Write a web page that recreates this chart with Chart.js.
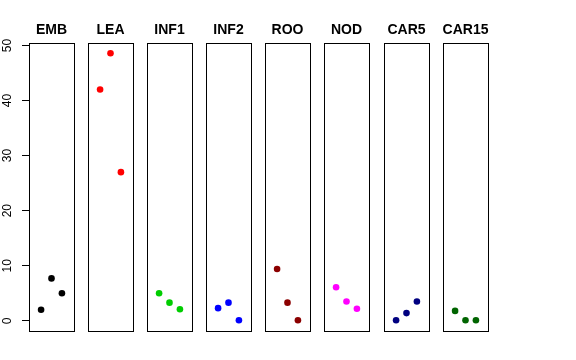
<!DOCTYPE html>
<html><head><meta charset="utf-8">
<script src="https://cdn.jsdelivr.net/npm/chart.js@4"></script>
<style>
html,body{margin:0;padding:0;background:#fff;}
#wrap{position:relative;width:576px;height:360px;overflow:hidden;}
#wrap canvas{position:absolute;left:0;top:0;}
</style>
</head><body><div id="wrap"></div>
<script>
// ---- data ----
const categories = ['EMB','LEA','INF1','INF2','ROO','NOD','CAR5','CAR15'];
const positions = [1, 2, 3];
const EMB   = [2.0, 7.7, 5.0];
const LEA   = [42.0, 48.6, 27.0];
const INF1  = [5.0, 3.3, 2.1];
const INF2  = [2.3, 3.3, 0.1];
const ROO   = [9.4, 3.3, 0.1];
const NOD   = [6.1, 3.5, 2.2];
const CAR5  = [0.1, 1.4, 3.5];
const CAR15 = [1.8, 0.1, 0.1];
const yTicks = [0, 10, 20, 30, 40, 50];

const seriesValues = [EMB, LEA, INF1, INF2, ROO, NOD, CAR5, CAR15];
const colors = ['#000000','#FF0000','#00CD00','#0000FF','#8B0000','#FF00FF','#000080','#006400'];

// ---- layout ----
const W = 576, H = 360;
const panelLefts = [29, 88, 147, 206, 265, 324, 384, 443];
const panelWidth = 45;
const panelTop = 43, panelBottom = 331;

const boxPlugin = {
  id: 'boxTitle',
  afterDraw(chart, args, opts) {
    const {ctx, chartArea: a} = chart;
    ctx.save();
    ctx.strokeStyle = '#000';
    ctx.lineWidth = 1;
    ctx.strokeRect(Math.round(a.left) + 0.5, Math.round(a.top) + 0.5,
                   Math.round(a.right - a.left), Math.round(a.bottom - a.top));
    ctx.fillStyle = '#000';
    ctx.font = 'bold 14px "Liberation Sans", Arial, sans-serif';
    ctx.textAlign = 'center';
    ctx.textBaseline = 'alphabetic';
    ctx.fillText(opts.text, (a.left + a.right) / 2, 34);
    ctx.restore();
  }
};

const wrap = document.getElementById('wrap');
categories.forEach((cat, i) => {
  const cv = document.createElement('canvas');
  cv.width = W; cv.height = H;
  cv.style.width = W + 'px'; cv.style.height = H + 'px';
  wrap.appendChild(cv);
  const first = i === 0;
  const yScale = {
    type: 'linear', min: -1.85, max: 50.45,
    display: first
  };
  if (first) {
    Object.assign(yScale, {
      afterBuildTicks: (s) => { s.ticks = yTicks.map(v => ({value: v})); },
      afterFit: (s) => { s.width = panelLefts[0]; },
      border: { display: true, color: '#000', width: 1 },
      grid: { drawOnChartArea: false, drawTicks: true, tickLength: 7, color: '#000' },
      ticks: {
        minRotation: 90, maxRotation: 90,
        crossAlign: 'center',
        padding: 8,
        color: '#000',
        font: { family: '"Liberation Sans", Arial, sans-serif', size: 12 }
      }
    });
  }
  new Chart(cv, {
    type: 'scatter',
    data: {
      datasets: [{
        data: positions.map((p, j) => ({x: p, y: seriesValues[i][j]})),
        backgroundColor: colors[i],
        borderWidth: 0,
        pointRadius: 3.3,
        pointHoverRadius: 3.3
      }]
    },
    options: {
      responsive: false,
      devicePixelRatio: 1,
      animation: false,
      events: [],
      layout: {
        padding: {
          left: first ? 0 : panelLefts[i],
          right: W - panelLefts[i] - panelWidth,
          top: panelTop,
          bottom: H - panelBottom
        }
      },
      scales: {
        x: { type: 'linear', min: -0.16, max: 4.16, display: false },
        y: yScale
      },
      plugins: {
        legend: { display: false },
        tooltip: { enabled: false },
        boxTitle: { text: cat }
      }
    },
    plugins: [boxPlugin]
  });
});
</script>
</body></html>
